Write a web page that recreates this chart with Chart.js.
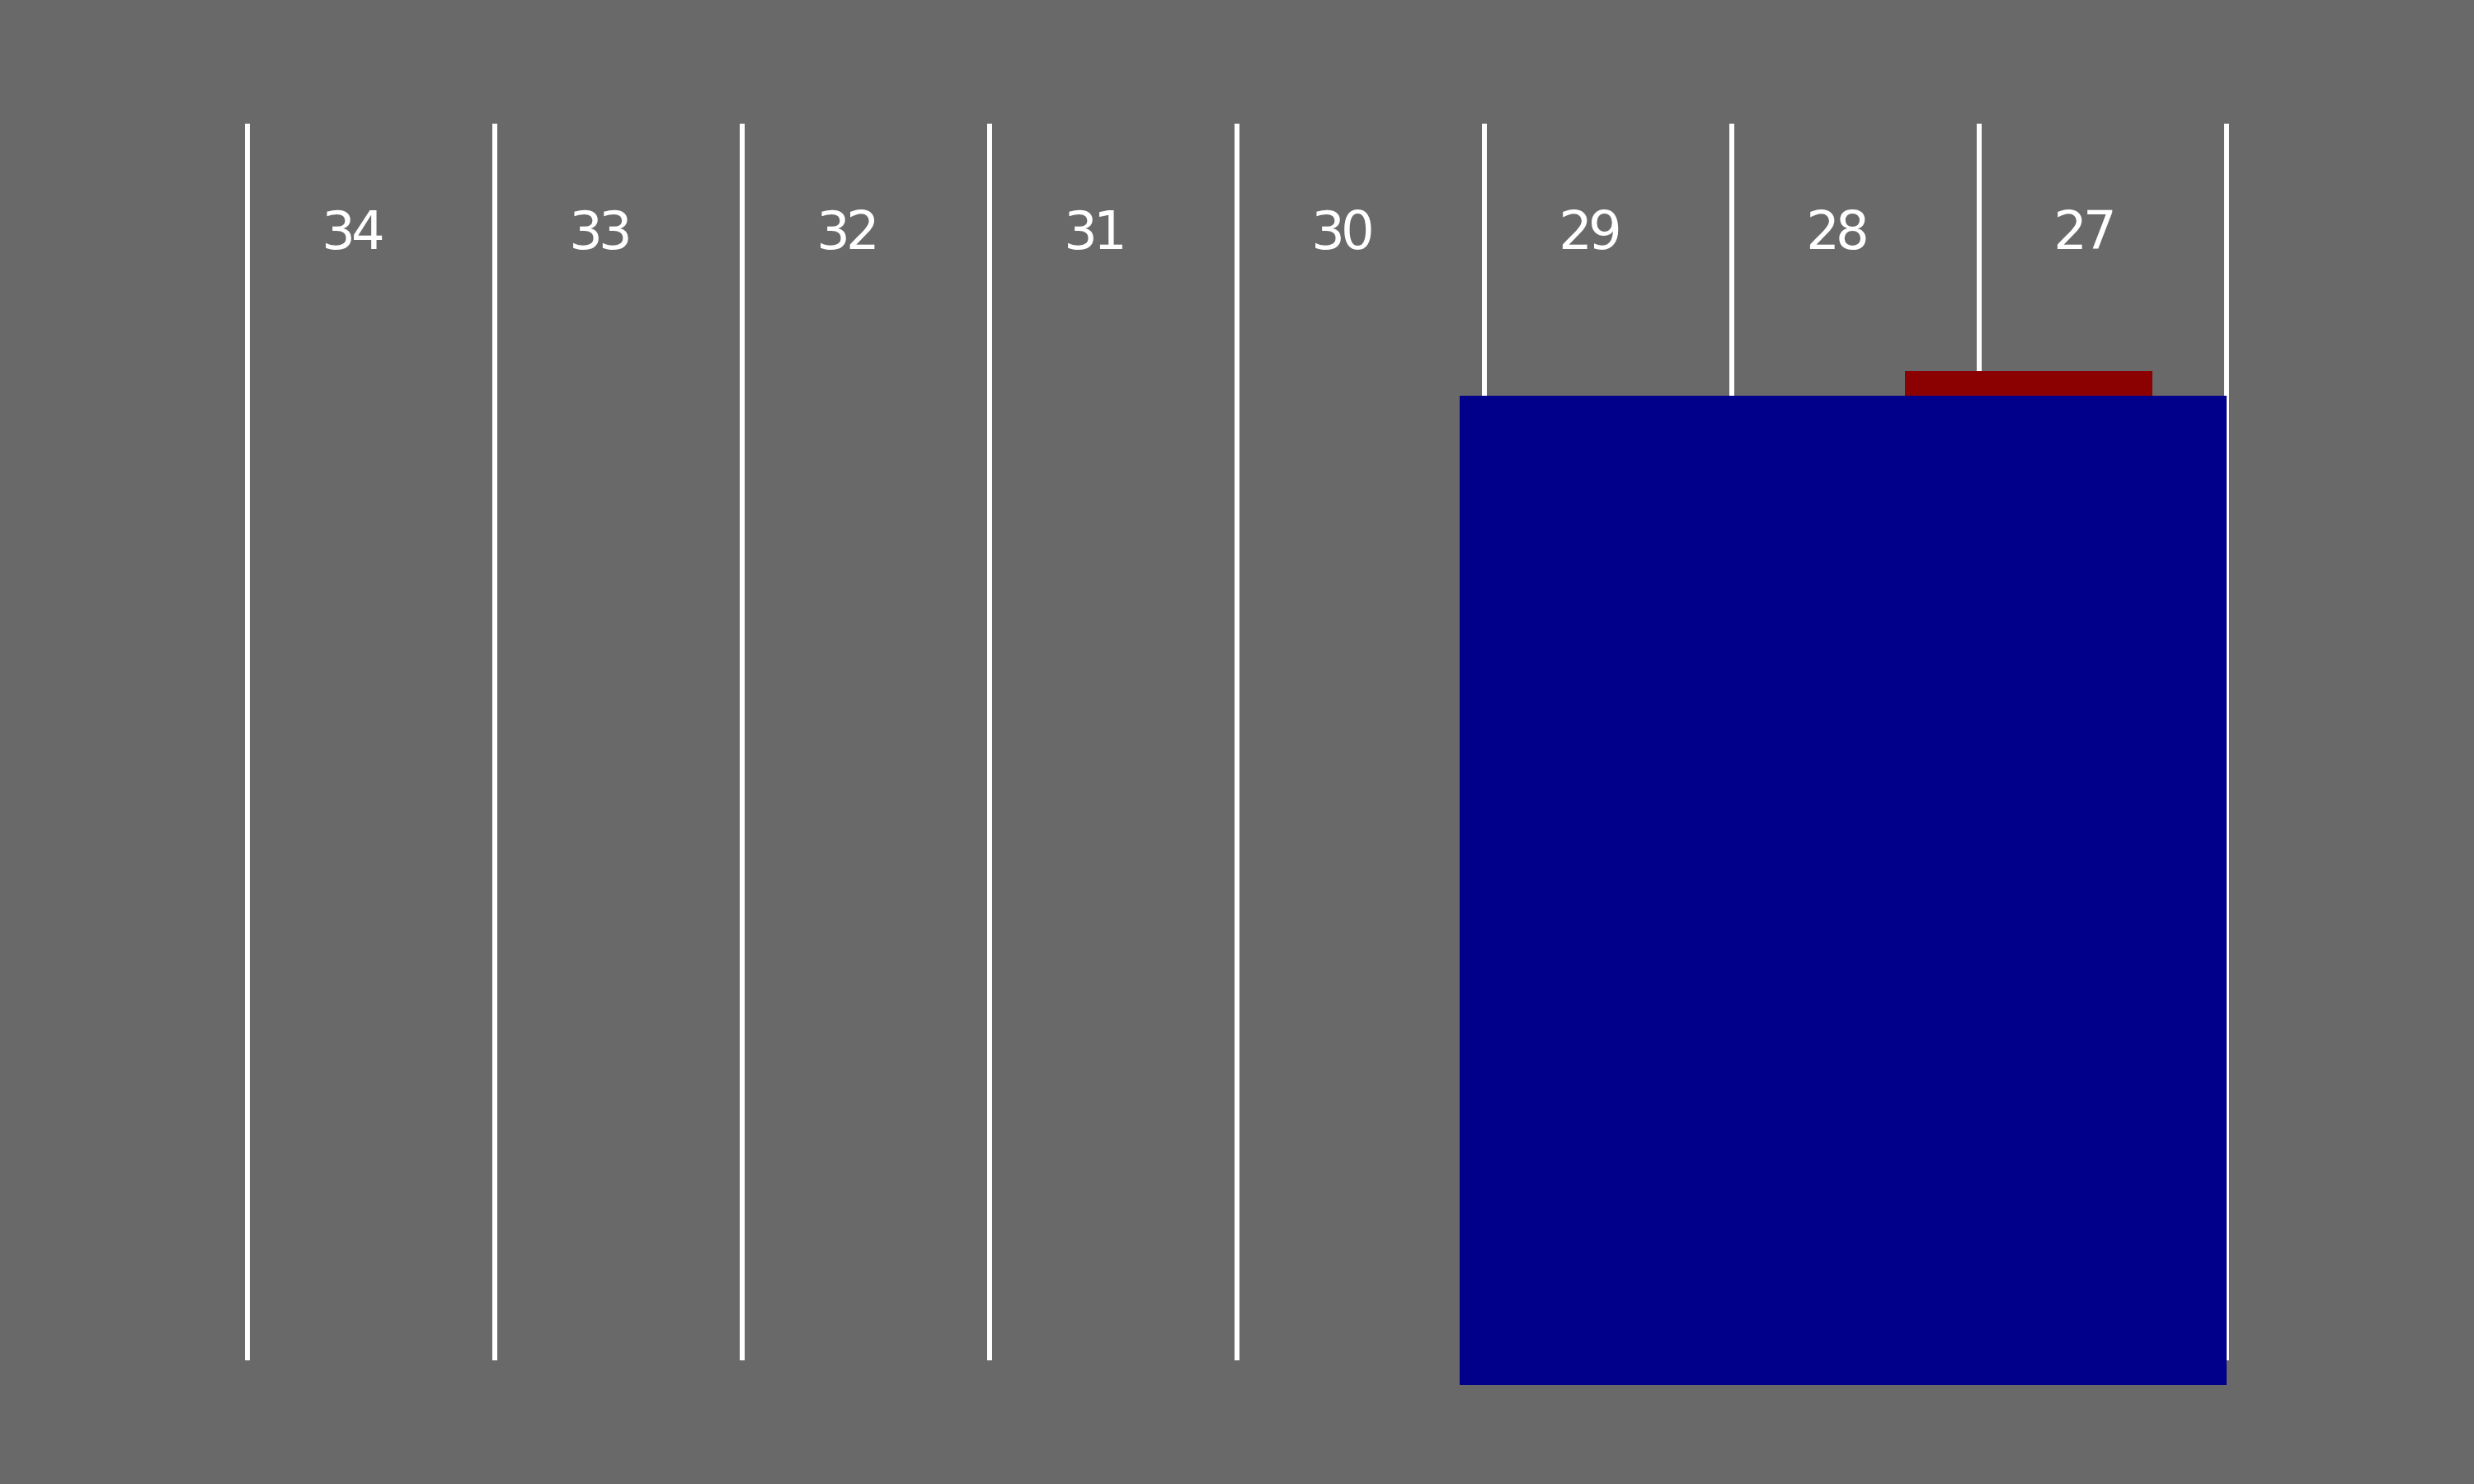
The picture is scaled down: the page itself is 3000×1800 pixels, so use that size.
<!DOCTYPE html>
<html>
<head>
<meta charset="utf-8">
<script src="https://cdn.jsdelivr.net/npm/chart.js@4/dist/chart.umd.min.js"></script>
<style>
  html, body { margin: 0; padding: 0; background: #696969; }
  #wrap { width: 3000px; height: 1800px; }
</style>
</head>
<body>
<div id="wrap"><canvas id="c" width="3000" height="1800"></canvas></div>
<script>
// ---- data ----
const columnLabels = ['34', '33', '32', '31', '30', '29', '28', '27'];
const columnValues = [34, 33, 32, 31, 30, 29, 28, 27];
const boundaries = [34.5, 33.5, 32.5, 31.5, 30.5, 29.5, 28.5, 27.5, 26.5];
const lineSpanY = [0, 100];
const labelY = 89.9;
const blueX = [29.6, 26.5];
const blueY = [-2, 78];
const redX = [27.8, 26.8];
const redY = [78, 80];

// ---- styles ----
const BLUE = '#00008b';
const RED = '#8b0000';
const WHITE = '#ffffff';

function edge(xs, y) { return xs.map(x => ({ x: x, y: y })); }

const datasets = [];
// rectangles (drawn on top: order 0)
[[blueX, blueY, BLUE], [redX, redY, RED]].forEach(([xs, ys, col]) => {
  datasets.push({
    data: edge(xs, ys[0]), borderColor: 'transparent', borderWidth: 0,
    pointRadius: 0, fill: false, order: 0, clip: false
  });
  datasets.push({
    data: edge(xs, ys[1]), borderColor: 'transparent', borderWidth: 0,
    pointRadius: 0, fill: '-1', backgroundColor: col, order: 0, clip: false
  });
});
// vertical white lines (order 1, below rectangles)
boundaries.forEach(b => {
  datasets.push({
    data: lineSpanY.map(y => ({ x: b, y: y })), borderColor: WHITE, borderWidth: 6,
    pointRadius: 0, fill: false, order: 1, clip: false, borderCapStyle: 'butt'
  });
});

const labelPlugin = {
  id: 'columnLabels',
  afterDatasetsDraw(chart) {
    const ctx = chart.ctx;
    const xs = chart.scales.x, ys = chart.scales.y;
    ctx.save();
    ctx.fillStyle = WHITE;
    ctx.font = '64px "DejaVu Sans"';
    try { ctx.letterSpacing = '-5px'; } catch (e) {}
    ctx.textAlign = 'center';
    ctx.textBaseline = 'alphabetic';
    columnValues.forEach((v, i) => {
      ctx.fillText(columnLabels[i], xs.getPixelForValue(v) - 24, ys.getPixelForValue(labelY));
    });
    ctx.restore();
  }
};

new Chart(document.getElementById('c'), {
  type: 'line',
  data: { datasets: datasets },
  options: {
    responsive: false,
    animation: false,
    devicePixelRatio: 1,
    layout: { padding: { left: 300, right: 300, top: 150, bottom: 120 } },
    plugins: { legend: { display: false }, tooltip: { enabled: false } },
    scales: {
      x: { type: 'linear', reverse: true, min: 26.5, max: 34.5, display: false },
      y: { type: 'linear', min: -2, max: 100, display: false }
    }
  },
  plugins: [labelPlugin]
});
</script>
</body>
</html>
